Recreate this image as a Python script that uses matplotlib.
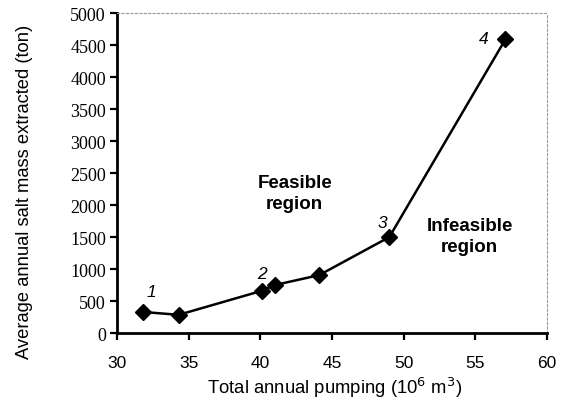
import matplotlib
matplotlib.use("Agg")
import matplotlib.pyplot as plt

# Pareto trade-off points
pumping = [31.8, 34.3, 40.1, 41.0, 44.1, 49.0, 57.1]
salt_mass = [330, 285, 660, 750, 905, 1500, 4590]

# Numbered point labels
label_text = ["1", "2", "3", "4"]
label_x = [32.4, 40.1, 48.5, 55.6]
label_y = [650, 930, 1720, 4600]

x_ticks = [30, 35, 40, 45, 50, 55, 60]
y_ticks = list(range(0, 5001, 500))


def main():
    fig = plt.figure(figsize=(5.68, 4.02), dpi=100)
    ax = fig.add_axes([0.206, 0.169, 0.757, 0.796])

    ax.plot(pumping, salt_mass, color="black", lw=1.8,
            marker="D", markersize=8.5, markerfacecolor="black")

    for t, x, y in zip(label_text, label_x, label_y):
        ax.text(x, y, t, fontsize=12.5, style="italic", family="Liberation Sans",
                ha="center", va="center")

    ax.text(42.4, 2195, "Feasible\nregion", fontsize=13.5, weight="bold",
            family="Liberation Sans", ha="center", va="center", linespacing=1.3)
    ax.text(54.6, 1523, "Infeasible\nregion", fontsize=13.5, weight="bold",
            family="Liberation Sans", ha="center", va="center", linespacing=1.3)

    ax.set_xlim(30, 60)
    ax.set_ylim(0, 5000)
    ax.set_xticks(x_ticks)
    ax.set_yticks(y_ticks)
    ax.set_xticklabels([str(v) for v in x_ticks], family="Liberation Sans", fontsize=12.5)
    ax.set_yticklabels([str(v) for v in y_ticks], family="Liberation Serif", fontsize=13)
    ax.tick_params(axis="both", direction="out", length=5, width=1.6, color="black")
    ax.tick_params(axis="x", pad=11)
    ax.tick_params(axis="y", pad=3)

    for side in ["left", "bottom"]:
        ax.spines[side].set_linewidth(2)
        ax.spines[side].set_color("black")
    for side in ["top", "right"]:
        ax.spines[side].set_linestyle((0, (2, 2)))
        ax.spines[side].set_linewidth(0.8)
        ax.spines[side].set_color("#999999")

    ax.set_xlabel("Total annual pumping (10$^6$ m$^3$)", family="Liberation Sans",
                  fontsize=13.3, va="center")
    ax.xaxis.set_label_coords(0.505, -0.169)
    ax.set_ylabel("Average annual salt mass extracted (ton)", family="Liberation Sans",
                  fontsize=13.2, va="center")
    ax.yaxis.set_label_coords(-0.216, 0.444)

    fig.savefig("out.png", dpi=100)


if __name__ == "__main__":
    main()
